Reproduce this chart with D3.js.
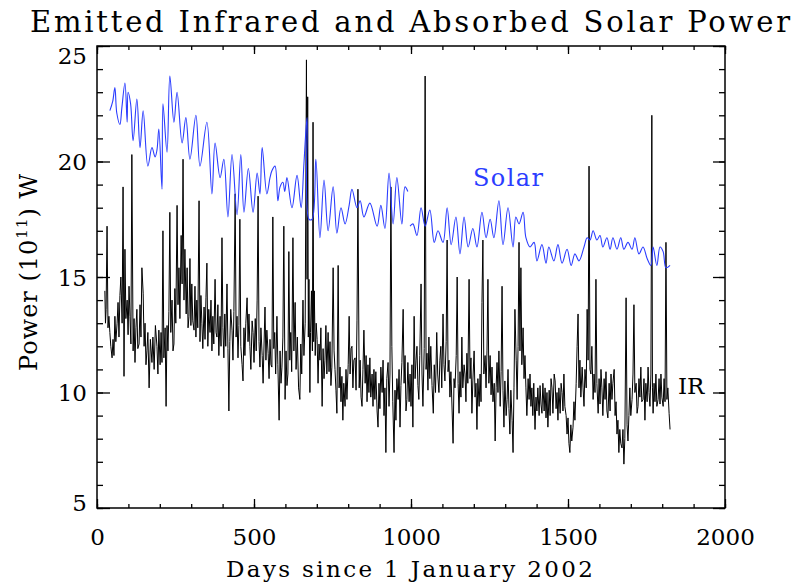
<!DOCTYPE html>
<html><head><meta charset="utf-8">
<script src="https://cdn.jsdelivr.net/npm/d3@7"></script>
<style>body{margin:0;background:#fff}svg{display:block}</style>
</head><body><svg id="c" width="795" height="583"></svg>
<script>
const titleText = "Emitted Infrared and Absorbed Solar Power";
const xLabelText = "Days since 1 January 2002";
const xTickValues = [0, 500, 1000, 1500, 2000];
const yTickValues = [5, 10, 15, 20, 25];

const solarDays = [41,50,57,63,73,79,89,96,99,107,115,127,137,147,162,175,185,191,197,207,210,223,232,245,255,271,283,296,315,328,350,366,376,392,404,417,430,446,458,468,482,497,510,519,526,541,551,557,567,576,583,592,598,605,621,637,650,659,669,675,685,697,710,723,736,752,764,777,790,803,812,828,838,850,869,892,904,917,930,943,955,971,981,990,993,997,1006,1019,1032,1045,1060,1074,1086,1102,1115,1128,1143,1156,1169,1182,1197,1210,1226,1239,1252,1264,1280,1293,1309,1325,1334,1344,1357,1366,1379,1392,1401,1417,1430,1439,1455,1468,1481,1497,1510,1522,1535,1551,1561,1570,1580,1592,1602,1611,1624,1634,1643,1656,1668,1678,1691,1704,1713,1726,1739,1752,1764,1771,1783,1793,1803,1812,1825];
const solarPower = [22.2,22.6,23.2,22.1,21.6,22.3,23.4,21.7,23.0,22.5,20.9,22.7,20.6,22.2,19.8,20.6,20.2,20.5,21.4,18.8,22.5,20.4,23.7,21.7,23.0,20.8,21.9,20.1,22.0,19.8,21.7,18.6,20.8,19.3,20.1,17.6,20.3,17.7,20.3,17.8,19.7,17.8,19.5,18.6,20.6,18.6,19.3,19.6,19.8,18.3,18.9,19.1,18.7,19.3,18.0,19.4,18.0,19.9,21.9,17.5,17.5,20.1,16.7,19.2,17.0,18.9,16.9,18.0,17.3,18.1,18.8,18.0,18.3,17.6,18.2,17.2,18.1,17.1,19.5,17.3,19.3,17.3,18.9,18.7,null,17.2,17.3,16.8,18.0,17.2,17.9,16.5,17.0,16.5,18.0,16.4,17.6,16.0,17.6,16.3,17.1,16.3,17.8,16.7,17.5,16.7,18.3,16.4,18.0,16.3,17.6,17.3,17.8,16.7,16.3,16.5,15.7,16.4,15.6,16.3,15.7,16.4,15.6,16.2,15.5,16.0,15.7,16.3,16.7,16.6,17.0,16.6,16.8,16.3,16.7,16.2,16.7,16.2,16.7,16.2,16.5,16.2,16.7,16.0,16.3,15.8,15.5,16.3,15.5,16.3,16.1,15.4,15.5];

// [day, power]
const irSeries = [[25,14.4],[27,13.0],[29,13.6],[32,17.2],[35,12.8],[38,13.3],[41,12.6],[44,12.0],[48,11.5],[51,12.3],[54,11.6],[57,13.3],[60,12.2],[64,13.0],[67,13.9],[70,12.4],[73,14.2],[76,15.0],[80,13.0],[83,18.9],[86,10.7],[89,16.2],[92,13.2],[96,14.0],[99,12.5],[102,14.6],[105,13.3],[108,12.1],[111,20.3],[115,11.8],[118,13.2],[121,11.3],[124,12.8],[127,13.6],[130,11.9],[134,12.1],[137,13.8],[140,12.4],[143,15.4],[147,14.3],[150,12.0],[153,13.0],[156,11.2],[159,11.8],[162,12.6],[166,10.2],[170,12.3],[175,11.3],[178,12.4],[182,11.0],[186,12.9],[191,12.0],[194,10.8],[197,12.7],[201,11.2],[204,12.6],[207,11.3],[210,17.0],[213,11.5],[217,12.8],[220,9.4],[223,12.9],[226,11.8],[229,13.5],[232,17.8],[235,12.6],[239,14.0],[242,11.8],[245,12.1],[248,14.5],[251,13.0],[255,18.1],[258,13.8],[261,15.4],[264,13.2],[268,16.8],[271,14.7],[274,20.1],[277,14.0],[280,16.2],[284,13.4],[287,15.4],[290,12.8],[293,13.3],[296,15.8],[299,12.9],[302,14.7],[305,13.1],[309,12.7],[312,14.6],[315,12.4],[318,14.0],[321,12.8],[325,18.3],[328,12.2],[331,14.2],[334,13.0],[337,11.9],[341,13.7],[344,12.3],[347,14.1],[350,15.6],[353,12.0],[356,13.6],[360,12.6],[363,14.0],[366,11.8],[369,13.3],[372,12.1],[376,14.9],[379,12.6],[382,12.4],[385,13.8],[388,11.6],[392,13.3],[395,12.0],[398,16.7],[401,12.8],[404,11.5],[407,13.4],[410,12.0],[414,14.7],[417,11.9],[420,9.2],[423,12.2],[426,13.6],[430,12.7],[433,11.4],[436,13.5],[440,18.6],[443,12.4],[446,13.3],[449,11.5],[452,12.9],[455,17.5],[458,12.0],[462,11.2],[465,10.5],[468,12.8],[471,11.6],[474,13.0],[478,14.1],[481,12.2],[484,13.4],[487,12.0],[490,11.0],[494,13.1],[497,12.6],[500,11.3],[504,13.2],[507,11.8],[510,14.0],[513,18.5],[516,12.2],[519,11.1],[522,12.8],[526,11.6],[529,10.4],[532,12.1],[535,13.7],[538,11.4],[541,12.7],[545,11.7],[548,10.6],[551,12.3],[554,11.2],[557,11.1],[560,17.6],[563,11.9],[566,12.6],[569,10.8],[573,13.3],[576,11.2],[580,8.8],[583,11.8],[586,10.4],[589,11.1],[592,12.4],[595,17.2],[599,9.7],[602,11.8],[605,10.3],[608,10.8],[611,16.1],[614,11.4],[617,12.6],[620,10.9],[624,16.7],[627,11.8],[631,13.9],[634,11.0],[638,12.4],[642,10.2],[646,9.7],[649,12.1],[652,10.8],[656,14.0],[659,11.6],[663,13.0],[667,24.4],[669,14.9],[671,22.8],[673,12.4],[675,14.9],[678,10.0],[680,12.6],[683,14.4],[686,11.8],[688,21.7],[690,12.2],[692,14.4],[695,11.6],[698,13.0],[701,12.3],[704,10.4],[707,12.1],[710,11.4],[713,12.8],[717,9.4],[720,11.9],[723,10.6],[726,11.4],[729,12.9],[732,10.8],[736,12.6],[739,10.9],[742,12.2],[745,10.3],[748,11.1],[752,15.4],[755,11.8],[758,11.0],[761,10.1],[764,9.1],[768,15.5],[771,10.2],[774,11.1],[777,9.6],[780,10.7],[783,8.8],[786,10.4],[790,9.4],[793,11.0],[796,9.7],[800,11.2],[803,13.3],[806,10.8],[809,11.9],[812,12.0],[815,10.2],[818,11.4],[822,11.5],[825,10.1],[828,13.1],[831,18.8],[835,10.2],[838,11.4],[841,9.8],[844,9.4],[847,11.0],[850,12.7],[854,10.4],[857,11.6],[860,9.6],[863,11.2],[866,10.0],[869,11.5],[872,9.8],[876,10.8],[879,9.4],[882,11.0],[885,9.7],[888,10.9],[892,9.2],[895,8.5],[898,10.4],[901,9.3],[904,11.1],[908,10.0],[911,11.4],[914,9.0],[917,10.2],[920,7.4],[923,10.6],[927,11.3],[930,9.4],[933,10.8],[936,18.9],[939,12.0],[942,9.6],[946,7.4],[949,10.1],[952,8.8],[955,10.6],[959,9.7],[962,11.0],[965,8.5],[968,10.3],[971,11.3],[975,13.6],[978,10.4],[981,11.6],[984,9.2],[987,9.7],[990,11.3],[994,9.6],[997,10.8],[1000,9.4],[1003,11.2],[1006,8.5],[1010,13.3],[1013,10.6],[1016,11.4],[1019,12.0],[1022,10.3],[1025,9.7],[1028,11.6],[1032,14.7],[1035,10.8],[1038,9.4],[1042,11.9],[1045,23.7],[1048,11.0],[1051,11.7],[1054,10.1],[1057,12.4],[1060,10.6],[1063,12.0],[1067,10.3],[1071,9.1],[1074,11.2],[1078,10.0],[1082,12.6],[1085,10.8],[1089,10.0],[1092,11.4],[1095,12.0],[1098,10.2],[1102,13.4],[1105,11.2],[1108,10.5],[1112,12.2],[1115,16.6],[1118,10.9],[1121,11.4],[1124,9.8],[1127,10.9],[1131,9.2],[1134,7.8],[1137,10.6],[1140,10.2],[1144,11.6],[1147,15.0],[1150,10.4],[1153,9.1],[1156,10.9],[1159,9.8],[1162,12.4],[1165,10.2],[1169,11.2],[1172,10.8],[1175,9.6],[1178,11.7],[1181,10.4],[1185,14.9],[1188,10.6],[1191,11.5],[1194,9.1],[1197,10.5],[1201,11.8],[1204,9.8],[1207,10.4],[1210,8.4],[1213,10.6],[1217,9.4],[1220,10.8],[1223,9.6],[1226,13.9],[1229,16.6],[1232,10.8],[1236,11.6],[1239,10.2],[1242,11.8],[1245,14.9],[1248,10.4],[1252,11.6],[1255,9.9],[1258,11.1],[1261,9.6],[1265,10.4],[1268,7.9],[1271,10.2],[1274,11.3],[1277,10.0],[1280,11.8],[1284,9.4],[1287,10.9],[1290,14.6],[1293,10.1],[1296,8.5],[1299,10.5],[1303,9.0],[1306,9.7],[1309,11.0],[1312,9.3],[1315,8.2],[1318,10.1],[1322,8.8],[1325,7.4],[1328,10.2],[1331,13.6],[1335,11.4],[1338,9.7],[1341,12.0],[1344,16.5],[1347,11.8],[1350,15.4],[1353,11.2],[1357,12.8],[1360,10.6],[1363,11.6],[1366,10.2],[1369,9.0],[1373,10.6],[1376,9.7],[1379,10.8],[1382,9.4],[1385,10.2],[1388,9.0],[1391,10.4],[1395,8.4],[1398,9.8],[1401,9.2],[1404,10.2],[1408,9.0],[1411,10.3],[1414,9.5],[1417,9.1],[1420,10.4],[1424,9.2],[1427,10.2],[1430,8.9],[1433,10.0],[1436,8.5],[1440,10.1],[1443,9.0],[1446,10.6],[1449,10.2],[1452,9.1],[1456,10.8],[1459,10.5],[1462,9.3],[1465,10.0],[1468,8.8],[1471,10.2],[1475,9.1],[1478,10.4],[1481,10.0],[1484,9.2],[1487,10.8],[1490,9.4],[1494,9.0],[1497,8.2],[1500,8.9],[1503,7.8],[1506,7.4],[1509,8.6],[1512,7.9],[1516,8.5],[1519,9.6],[1522,8.8],[1526,10.4],[1529,12.0],[1532,13.4],[1535,10.2],[1538,11.4],[1541,9.8],[1545,11.1],[1548,10.2],[1551,9.4],[1554,11.0],[1558,10.2],[1561,13.6],[1564,11.4],[1567,19.8],[1570,11.0],[1573,10.8],[1576,12.0],[1580,9.7],[1583,10.8],[1586,10.0],[1589,14.9],[1592,10.4],[1596,9.1],[1599,10.6],[1602,9.5],[1605,11.0],[1608,10.2],[1611,9.0],[1615,10.6],[1618,9.7],[1621,10.9],[1624,9.2],[1627,8.9],[1631,10.4],[1634,9.2],[1637,10.8],[1640,9.7],[1643,10.4],[1647,11.0],[1650,9.0],[1653,9.6],[1656,8.2],[1659,8.8],[1662,7.4],[1665,8.4],[1668,7.8],[1672,7.6],[1675,8.4],[1678,6.9],[1681,8.0],[1685,14.1],[1688,8.6],[1691,7.9],[1694,9.0],[1697,10.2],[1700,9.0],[1704,9.7],[1707,10.8],[1710,13.8],[1713,10.0],[1717,10.4],[1720,9.1],[1723,9.4],[1726,10.6],[1729,9.8],[1732,11.1],[1735,9.6],[1739,9.7],[1742,10.6],[1745,8.8],[1748,10.4],[1752,9.6],[1755,11.1],[1758,10.0],[1761,9.4],[1764,10.8],[1767,22.0],[1769,10.2],[1771,9.1],[1774,10.4],[1777,9.6],[1780,10.8],[1783,9.4],[1787,9.7],[1790,10.6],[1793,9.5],[1796,10.8],[1799,9.8],[1803,9.4],[1806,10.6],[1809,9.6],[1812,16.5],[1815,9.7],[1818,10.2],[1822,9.1],[1825,8.4]];

const solarData = solarDays.map((d, i) => ({day: d, v: solarPower[i]}));
const irData = irSeries.map(p => ({day: p[0], v: p[1]}));

const M = {left: 97, top: 46, right: 725, bottom: 508};
const svg = d3.select("#c");
const FONT = "'DejaVu Serif', serif";
const solarColor = "#2b3dff";

const x = d3.scaleLinear().domain([0, 2000]).range([M.left, M.right]);
const y = d3.scaleLinear().domain([5, 25]).range([M.bottom, M.top]);

const lineIR = d3.line().x(d => x(d.day)).y(d => y(d.v));
const lineSolar = d3.line().defined(d => d.v != null).x(d => x(d.day)).y(d => y(d.v)).curve(d3.curveCatmullRom.alpha(0.5));

svg.append("path").datum(irData).attr("d", lineIR)
  .attr("fill", "none").attr("stroke", "#000").attr("stroke-width", 1);
svg.append("path").datum(solarData).attr("d", lineSolar)
  .attr("fill", "none").attr("stroke", solarColor).attr("stroke-width", 1.1);

function styleAxis(g) {
  g.select(".domain").remove();
  g.selectAll(".tick line").attr("stroke", "#000").attr("stroke-width", 1.3);
}
const minorX = d3.range(0, 2001, 100);
const minorY = d3.range(5, 26, 1);

svg.append("g").attr("transform", `translate(0,${M.bottom})`)
  .call(d3.axisBottom(x).tickValues(minorX).tickSize(-4).tickFormat("")).call(styleAxis);
svg.append("g").attr("transform", `translate(0,${M.top})`)
  .call(d3.axisTop(x).tickValues(minorX).tickSize(-4).tickFormat("")).call(styleAxis);
svg.append("g").attr("transform", `translate(0,${M.top})`)
  .call(d3.axisTop(x).tickValues(xTickValues).tickSize(-8).tickFormat("")).call(styleAxis);
const xb = svg.append("g").attr("transform", `translate(0,${M.bottom})`)
  .call(d3.axisBottom(x).tickValues(xTickValues).tickSize(-9).tickFormat(d3.format("d"))).call(styleAxis);
xb.selectAll("text").attr("y", 37).attr("dy", 0)
  .attr("font-family", FONT).attr("font-size", 23).attr("fill", "#000");

svg.append("g").attr("transform", `translate(${M.left},0)`)
  .call(d3.axisLeft(y).tickValues(minorY).tickSize(-6).tickFormat("")).call(styleAxis);
svg.append("g").attr("transform", `translate(${M.right},0)`)
  .call(d3.axisRight(y).tickValues(minorY).tickSize(-6).tickFormat("")).call(styleAxis);
svg.append("g").attr("transform", `translate(${M.right},0)`)
  .call(d3.axisRight(y).tickValues(yTickValues).tickSize(-12).tickFormat("")).call(styleAxis);
const yl = svg.append("g").attr("transform", `translate(${M.left},0)`)
  .call(d3.axisLeft(y).tickValues(yTickValues).tickSize(-13).tickPadding(10).tickFormat(d3.format("d"))).call(styleAxis);
yl.selectAll("text").attr("font-family", FONT).attr("font-size", 23).attr("fill", "#000")
  .attr("dy", d => d === 25 ? "0.76em" : d === 5 ? "0.1em" : "0.36em");

svg.append("rect").attr("x", M.left).attr("y", M.top)
  .attr("width", M.right - M.left).attr("height", M.bottom - M.top)
  .attr("fill", "none").attr("stroke", "#000").attr("stroke-width", 1.5);

svg.append("text").attr("x", 30).attr("y", 32)
  .attr("font-family", FONT).attr("font-size", 29).attr("fill", "#000")
  .attr("textLength", 760).attr("lengthAdjust", "spacing")
  .text(titleText);

svg.append("text").attr("x", 226).attr("y", 577)
  .attr("font-family", FONT).attr("font-size", 23).attr("fill", "#000")
  .attr("textLength", 367).attr("lengthAdjust", "spacing")
  .text(xLabelText);

const ylab = svg.append("text")
  .attr("transform", "translate(37,371) rotate(-90)")
  .attr("font-family", FONT).attr("font-size", 24).attr("fill", "#000")
  .attr("letter-spacing", 1);
ylab.append("tspan").text("Power (10");
ylab.append("tspan").attr("font-size", 15).attr("dy", -10).text("11");
ylab.append("tspan").attr("dy", 10).text(") W");

svg.append("text").attr("x", 473).attr("y", 186)
  .attr("font-family", FONT).attr("font-size", 24).attr("fill", solarColor)
  .attr("textLength", 70).attr("lengthAdjust", "spacing").text("Solar");
svg.append("text").attr("x", 678).attr("y", 394)
  .attr("font-family", FONT).attr("font-size", 23).attr("fill", "#000").text("IR");
</script>
</body></html>
